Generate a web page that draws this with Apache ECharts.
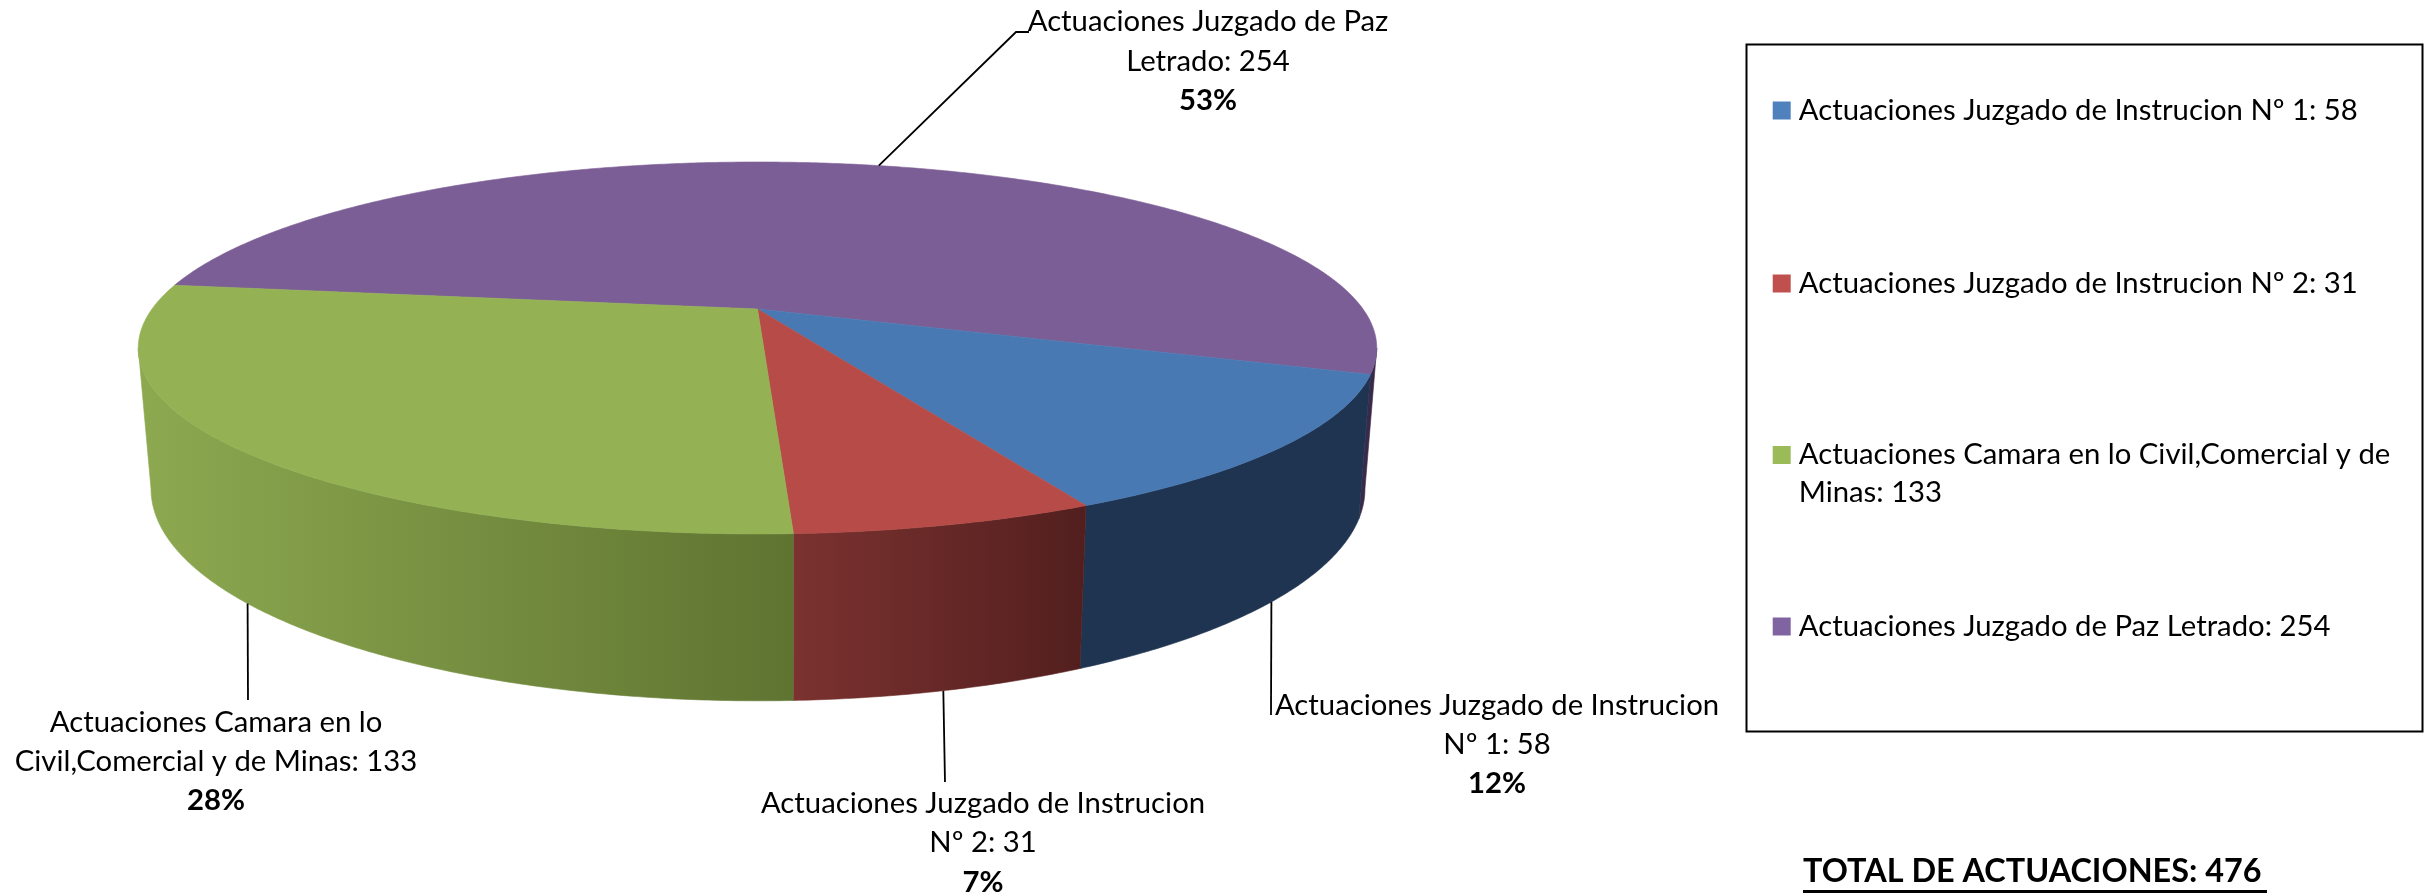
<!DOCTYPE html>
<html>
<head>
<meta charset="utf-8">
<style>html,body{margin:0;padding:0;background:#fff}#c{width:2424px;height:895px}</style>
<script src="https://cdn.jsdelivr.net/npm/echarts@6/dist/echarts.min.js"></script>
</head>
<body>
<div id="c"></div>
<script>
// ---- data ----
const categories = [
  'Actuaciones Juzgado de Instrucion Nº 1',
  'Actuaciones Juzgado de Instrucion Nº 2',
  'Actuaciones Camara en lo Civil,Comercial y de Minas',
  'Actuaciones Juzgado de Paz Letrado'
];
const values = [58, 31, 133, 254];
const totalLabel = 'TOTAL DE ACTUACIONES';
const labelNameLines = [
  ['Actuaciones Juzgado de Instrucion', 'Nº 1'],
  ['Actuaciones Juzgado de Instrucion', 'Nº 2'],
  ['Actuaciones Camara en lo', 'Civil,Comercial y de Minas'],
  ['Actuaciones Juzgado de Paz', 'Letrado']
];
const legendNameLines = [
  ['Actuaciones Juzgado de Instrucion Nº 1'],
  ['Actuaciones Juzgado de Instrucion Nº 2'],
  ['', 'Actuaciones Camara en lo Civil,Comercial y de', 'Minas'],
  ['Actuaciones Juzgado de Paz Letrado']
];

// ---- styling and layout ----
const FONT = 'Lato, "Open Sans", sans-serif';
const FS = 29.3;
const topColors = ['#4979B3', '#B64B48', '#94B154', '#7C5E96'];
const legendColors = ['#4F81BD', '#C0504D', '#9BBB59', '#8064A2'];
const wallStops = [['#1F3450', '#1F3450'], ['#7B3230', '#521F1E'], ['#8DA950', '#5F7431'], ['#3A2A4A', '#3A2A4A']];
const START_DEG = 20;                    // clockwise from 3 o'clock
const topPlane = {x0: 757.5, y0: 309, A: 605.5, B: 177.8, k: 0.2095};
const bottomPlane = {x0: 758, y0: 444.4, A: 593.5, B: 202.7, k: 0.2095};
const labelLayout = [
  {cx: 1497, ys: [706, 745, 784], elbows: [[1271, 715]]},
  {cx: 983, ys: [804, 843, 883], elbows: [[945, 782]]},
  {cx: 216, ys: [723, 762, 801], elbows: [[248, 700]]},
  {cx: 1208, ys: [22, 62, 101], elbows: [[1016, 32], [1029, 32]]}
];
const legendTops = [91.5, 264.5, 398, 607.5];

// ---- geometry derived from the values ----
const total = values.reduce((a, b) => a + b, 0);
let acc = START_DEG;
const slices = values.map(v => {
  const a0 = acc, a1 = acc + v / total * 360;
  acc = a1;
  return {a0, a1, mid: (a0 + a1) / 2};
});
function project(plane, deg) {
  const t = deg * Math.PI / 180, u = Math.cos(t), v = Math.sin(t), w = 1 - plane.k * v;
  return [plane.x0 + plane.A * u / w, plane.y0 + plane.B * v / w];
}
function arc(plane, a0, a1) {
  const n = Math.max(2, Math.ceil((a1 - a0) * 2)), pts = [];
  for (let i = 0; i <= n; i++) pts.push(project(plane, a0 + (a1 - a0) * i / n));
  return pts;
}
// The part of a slice's outer wall that faces the viewer.
const TANGENT = Math.asin(topPlane.k) * 180 / Math.PI;
function visibleWall(a0, a1) {
  for (const turn of [0, 360]) {
    const lo = Math.max(a0, TANGENT + turn), hi = Math.min(a1, 180 - TANGENT + turn);
    if (hi > lo) return [lo, hi];
  }
  return null;
}
function renderSlice(i) {
  return function (params, api) {
    api.value(0);
    const s = slices[i];
    const children = [];
    const range = visibleWall(s.a0, s.a1);
    if (range) {
      const topArc = arc(topPlane, range[0], range[1]);
      const botArc = arc(bottomPlane, range[0], range[1]);
      const wallPts = topArc.concat(botArc.slice().reverse());
      const xs = wallPts.map(p => p[0]);
      const grad = new echarts.graphic.LinearGradient(
        Math.min.apply(null, xs), 0, Math.max.apply(null, xs), 0,
        [{offset: 0, color: wallStops[i][0]}, {offset: 1, color: wallStops[i][1]}], true);
      children.push({type: 'polygon', shape: {points: wallPts}, style: {fill: grad, stroke: grad, lineWidth: 0.6}});
    }
    const facePts = [[topPlane.x0, topPlane.y0]].concat(arc(topPlane, s.a0, s.a1));
    children.push({type: 'polygon', shape: {points: facePts}, style: {fill: topColors[i], stroke: topColors[i], lineWidth: 0.6}});
    return {type: 'group', children};
  };
}
function renderLabel(i) {
  return function (params, api) {
    const val = api.value(0);
    const lay = labelLayout[i];
    const plane = i === 3 ? topPlane : bottomPlane;
    const anchor = project(plane, slices[i].mid);
    const children = [{
      type: 'polyline',
      shape: {points: [anchor].concat(lay.elbows)},
      style: {fill: 'none', stroke: '#000', lineWidth: 1.8}
    }];
    const lines = [labelNameLines[i][0], labelNameLines[i][1] + ': ' + val];
    lines.forEach((t, k) => children.push({
      type: 'text',
      style: {text: t, x: lay.cx, y: lay.ys[k], align: 'center', verticalAlign: 'middle',
        fill: '#000', font: FS + 'px ' + FONT}
    }));
    children.push({
      type: 'text',
      style: {text: Math.round(val / total * 100) + '%', x: lay.cx, y: lay.ys[2], align: 'center',
        verticalAlign: 'middle', fill: '#000', font: 'bold ' + FS + 'px ' + FONT}
    });
    return {type: 'group', children};
  };
}

const paintOrder = [3, 0, 1, 2];
const sliceSeries = paintOrder.map(i => ({
  type: 'custom', name: categories[i], coordinateSystem: 'none', silent: true,
  itemStyle: {color: legendColors[i]}, z: 2,
  renderItem: renderSlice(i), data: [[values[i]]]
}));
const labelSeries = [0, 1, 2, 3].map(i => ({
  type: 'custom', coordinateSystem: 'none', silent: true, z: 5,
  renderItem: renderLabel(i), data: [[values[i]]]
}));

const legends = categories.map((name, i) => ({
  data: [{name, icon: 'rect', itemStyle: {color: legendColors[i]}}],
  orient: 'vertical', left: 1772.7, top: legendTops[i], padding: 0,
  itemWidth: 18, itemHeight: 18, selectedMode: false,
  formatter: () => {
    const l = legendNameLines[i].slice();
    l[l.length - 1] += ': ' + values[i];
    return l.join('\n');
  },
  textStyle: {
    fontFamily: FONT, fontSize: FS, color: '#000', lineHeight: 38, padding: [0, 0, 0, 3]
  }
}));

const chart = echarts.init(document.getElementById('c'), null, {renderer: 'canvas'});
chart.setOption({
  animation: false,
  backgroundColor: '#fff',
  legend: legends,
  title: {
    text: totalLabel + ': ' + total, left: 1803, top: 856, padding: 0,
    textStyle: {fontFamily: FONT, fontSize: 32.4, fontWeight: 'bold', color: '#000'}
  },
  graphic: [
    {type: 'rect', z: -1, shape: {x: 1746.5, y: 44.5, width: 676, height: 687},
      style: {fill: 'none', stroke: '#000', lineWidth: 2}},
    {type: 'rect', shape: {x: 1803, y: 890, width: 464, height: 3}, style: {fill: '#000'}}
  ],
  series: sliceSeries.concat(labelSeries)
});
</script>
</body>
</html>
